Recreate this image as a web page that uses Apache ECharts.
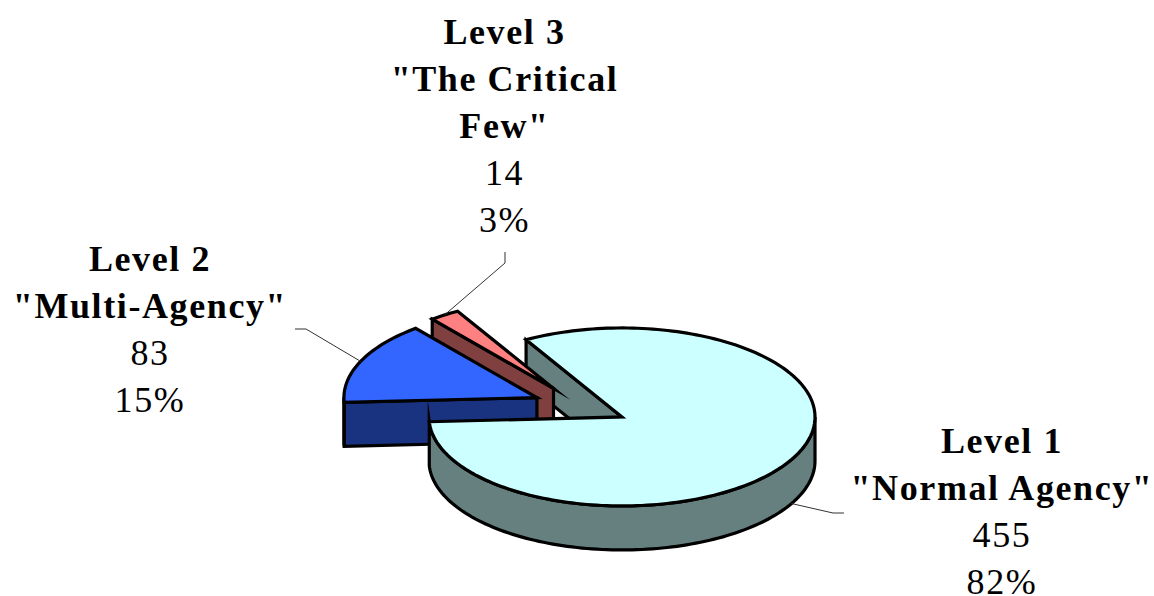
<!DOCTYPE html>
<html>
<head>
<meta charset="utf-8">
<style>
html,body{margin:0;padding:0;background:#fff}
#chart{width:1154px;height:596px}
#chart text{letter-spacing:1.6px}
</style>
<script src="https://cdn.jsdelivr.net/npm/echarts@6/dist/echarts.min.js"></script>
</head>
<body>
<div id="chart"></div>
<script>
const categories = ['Level 1', 'Level 2', 'Level 3'];
const subtitles = [['"Normal Agency"'], ['"Multi-Agency"'], ['"The Critical', 'Few"']];
const values = [455, 83, 14];
const topColors = ['#CCFFFF', '#3366FF', '#FF8080'];
const wallColors = ['#668080', '#1A3380', '#804040'];

// Pie projection
const CX = 580.3, CY = 406.5, RX = 193, RY = 89, DEPTH = 44;
const FIRST_ANGLE = 119.8, EXPLODE = 0.246;
// Label layout: centre x, first baseline, leader elbow points
const labelCentres = [1002, 150, 504.5];
const firstBaselines = [453, 271, 44];
const leaderElbows = [[[833, 513], [844, 513]], [[306, 329], [295, 329]], [[505, 263], [505, 252]]];
const LINE_PITCH = 47;

const total = values.reduce((a, b) => a + b, 0);
const slices = [];
let cursor = FIRST_ANGLE;
values.forEach((v) => {
  const sweep = v / total * 360;
  const start = cursor, end = cursor - sweep, mid = cursor - sweep / 2;
  const rad = mid * Math.PI / 180;
  slices.push({start, end, mid,
    ax: CX + EXPLODE * RX * Math.cos(rad),
    ay: CY - EXPLODE * RY * Math.sin(rad)});
  cursor = end;
});

function pt(s, deg, drop) {
  const r = deg * Math.PI / 180;
  return [s.ax + RX * Math.cos(r), s.ay - RY * Math.sin(r) + (drop || 0)];
}
function arc(s, from, to, drop) {
  const n = Math.max(2, Math.ceil(Math.abs(from - to) / 1.5));
  const out = [];
  for (let i = 0; i <= n; i++) out.push(pt(s, from + (to - from) * i / n, drop));
  return out;
}
const edge = {stroke: '#000', lineWidth: 3.2, lineJoin: 'miter', miterLimit: 20};
function poly(points, fill) {
  return {type: 'polygon', shape: {points}, style: Object.assign({fill}, edge)};
}
function radialWall(s, deg, fill) {
  const p = pt(s, deg), q = pt(s, deg, DEPTH);
  return poly([[s.ax, s.ay], p, q, [s.ax, s.ay + DEPTH]], fill);
}
function radialWalls(i) {
  const s = slices[i], out = [];
  if (Math.cos(s.start * Math.PI / 180) < 0) out.push(radialWall(s, s.start, wallColors[i]));
  if (Math.cos(s.end * Math.PI / 180) > 0) out.push(radialWall(s, s.end, wallColors[i]));
  return out;
}
function rimWall(i) {
  const s = slices[i], lo = Math.max(s.end, -180), hi = Math.min(s.start, 0);
  if (hi <= lo) return [];
  return [poly(arc(s, lo, hi).concat(arc(s, hi, lo, DEPTH)), wallColors[i])];
}
function topFace(i) {
  const s = slices[i];
  return [poly([[s.ax, s.ay]].concat(arc(s, s.start, s.end)), topColors[i])];
}
function leader(i) {
  const s = slices[i];
  const anchor = pt(s, s.mid, Math.sin(s.mid * Math.PI / 180) < 0 ? DEPTH : 0);
  return [{type: 'polyline', shape: {points: [anchor].concat(leaderElbows[i])},
    style: {fill: 'none', stroke: '#333', lineWidth: 1}}];
}
function labelText(i) {
  const pct = Math.round(values[i] / total * 100) + '%';
  const rows = [[categories[i], true]]
    .concat(subtitles[i].map((t) => [t, true]))
    .concat([[String(values[i]), false], [pct, false]]);
  return rows.map((row, k) => ({
    type: 'text',
    style: {
      text: row[0],
      x: labelCentres[i],
      y: firstBaselines[i] + k * LINE_PITCH - 12.5,
      fill: '#000',
      font: (row[1] ? 'bold ' : '') + '36px "Liberation Serif", serif',
      align: 'center',
      verticalAlign: 'middle'
    }
  }));
}
// Back-to-front paint order
const paintOrder = [
  () => radialWalls(0),
  () => radialWalls(2).concat(rimWall(2), topFace(2)),
  () => radialWalls(1).concat(rimWall(1), topFace(1)),
  () => rimWall(0).concat(topFace(0)),
  () => [0, 1, 2].reduce((a, i) => a.concat(leader(i), labelText(i)), [])
];

const chart = echarts.init(document.getElementById('chart'), null, {renderer: 'svg'});
chart.setOption({
  animation: false,
  backgroundColor: '#fff',
  series: [{
    type: 'custom',
    coordinateSystem: 'none',
    data: paintOrder.map((_, i) => i),
    renderItem: (params) => ({type: 'group', children: paintOrder[params.dataIndex]()})
  }]
});
</script>
</body>
</html>
